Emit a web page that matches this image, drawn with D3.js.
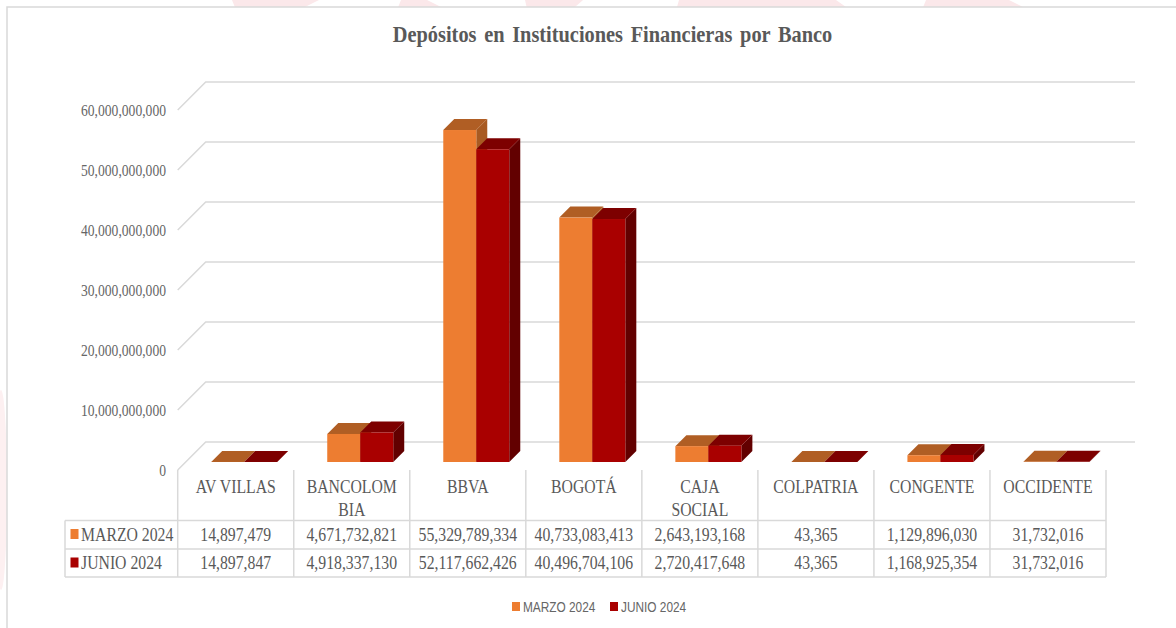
<!DOCTYPE html>
<html><head><meta charset="utf-8">
<script src="https://cdn.jsdelivr.net/npm/d3@7"></script>
<style>html,body{margin:0;padding:0;background:#fff}svg{display:block}</style>
</head><body><svg id="c" width="1176" height="628"></svg>
<script>
const categories = [["AV VILLAS"],["BANCOLOM","BIA"],["BBVA"],["BOGOTÁ"],["CAJA","SOCIAL"],["COLPATRIA"],["CONGENTE"],["OCCIDENTE"]];
const seriesNames = ["MARZO 2024","JUNIO 2024"];
const marzo = [14897479,4671732821,55329789334,40733083413,2643193168,43365,1129896030,31732016];
const junio = [14897847,4918337130,52117662426,40496704106,2720417648,43365,1168925354,31732016];
const yTicks = [0,1e10,2e10,3e10,4e10,5e10,6e10];
const title = "Depósitos en Instituciones Financieras por Banco";
const serif = "'Liberation Serif','Times New Roman',serif";
const sans = "'Liberation Sans',Arial,sans-serif";
const TXT = "#595959", GRID = "#d9d9d9";
const colors = [{f:"#ED7D31",t:"#B05E24",s:"#A85A22"},{f:"#A90000",t:"#7D0000",s:"#620000"}];
const svg = d3.select("#c");
const fmt = d3.format(",");

// text condensed horizontally, as in the picture
function label(parent,str,x,y,o){
  return parent.append("text").attr("transform",`translate(${x},${y}) scale(${o.sx},1)`)
    .attr("text-anchor",o.anchor||"middle").attr("font-family",o.family||serif)
    .attr("font-size",o.size).attr("font-weight",o.weight||"normal").attr("fill",o.fill||TXT).text(str);
}

// faint watermark behind the chart frame
const wm = [[232,319,-14],[401,427,14],[525,583,-8],[679,836,10],[926,1009,14]];
svg.selectAll("path.wm").data(wm).join("path").attr("fill","#fbe8ea")
  .attr("d",d=>`M${d[0]},0L${d[1]},0L${d[1]+d[2]},7L${d[0]-d[2]*0.2},7Z`);
svg.append("ellipse").attr("cx",1).attr("cy",490).attr("rx",6).attr("ry",100).attr("fill","#fdf0f1");
svg.append("rect").attr("x",7).attr("y",7).attr("width",1200).attr("height",640)
  .attr("fill","#fff").attr("stroke",GRID).attr("stroke-width",1.5);

const y = d3.scaleLinear().domain([0,6e10]).range([462,102]);
const colX = d3.scaleLinear().domain([0,8]).range([177.7,1106]);
const inner = d3.scaleBand().domain([0,1]).range([33.5,99.5]);
const wallDX = 28;

// title
label(svg,title,612.5,42,{size:24,weight:"bold",sx:0.849}).attr("word-spacing",3);

// walls / gridlines
const g = svg.append("g").attr("fill","none").attr("stroke",GRID).attr("stroke-width",1.5);
yTicks.forEach(v=>{
  const yb = y(v)-20, yf = y(v)+8;
  g.append("path").attr("d",`M${colX(0)},${yf}L${colX(0)+wallDX},${yb}L1135,${yb}`);
});
yTicks.forEach(v=>label(svg,fmt(v),166,y(v)+14,{size:16.5,sx:0.825,anchor:"end",fill:"#666"}));

// 3D bars
const depth = 11;
const bw = inner.bandwidth();
const bars = svg.append("g");
categories.forEach((c,i)=>{
  [marzo,junio].forEach((arr,s)=>{
    const x0 = colX(i)+inner(s), x1 = x0+bw, yt = y(arr[i]), yb = y(0), col = colors[s];
    const h = bars.append("g");
    h.append("path").attr("fill",col.s).attr("d",`M${x1},${yt}L${x1+depth},${yt-depth}L${x1+depth},${yb-depth}L${x1},${yb}Z`);
    h.append("path").attr("fill",col.t).attr("d",`M${x0},${yt}L${x0+depth},${yt-depth}L${x1+depth},${yt-depth}L${x1},${yt}Z`);
    h.append("rect").attr("fill",col.f).attr("x",x0).attr("y",yt).attr("width",bw).attr("height",yb-yt);
  });
});

// data table
const rowY = [470,520.5,549,577];
const t = svg.append("g").attr("stroke",GRID).attr("stroke-width",1.5).attr("fill","none");
d3.range(9).forEach(i=>t.append("line").attr("x1",colX(i)).attr("x2",colX(i)).attr("y1",rowY[0]).attr("y2",rowY[3]));
t.append("line").attr("x1",65).attr("x2",65).attr("y1",rowY[1]).attr("y2",rowY[3]);
rowY.slice(1).forEach(r=>t.append("line").attr("x1",65).attr("x2",colX(8)).attr("y1",r).attr("y2",r));

const tt = svg.append("g");
const cellOpt = {size:19,sx:0.83};
categories.forEach((c,i)=>{
  const cx = (colX(i)+colX(i+1))/2;
  c.forEach((ln,k)=>label(tt,ln,cx,493+k*23,cellOpt));
  [marzo,junio].forEach((arr,s)=>label(tt,fmt(arr[i]),cx,541+s*28.3,cellOpt));
});
seriesNames.forEach((n,s)=>{
  svg.append("rect").attr("x",70.5).attr("y",529+s*28.5).attr("width",8).attr("height",10).attr("fill",colors[s].f);
  label(svg,n,81,541+s*28.3,{size:19,sx:0.83,anchor:"start"});
});

// legend
const lx = [512,610];
seriesNames.forEach((n,s)=>{
  svg.append("rect").attr("x",lx[s]).attr("y",602).attr("width",8).attr("height",9).attr("fill",colors[s].f);
  label(svg,n,lx[s]+11,612,{size:15,sx:0.79,anchor:"start",family:sans,fill:"#666"});
});
</script></body></html>
